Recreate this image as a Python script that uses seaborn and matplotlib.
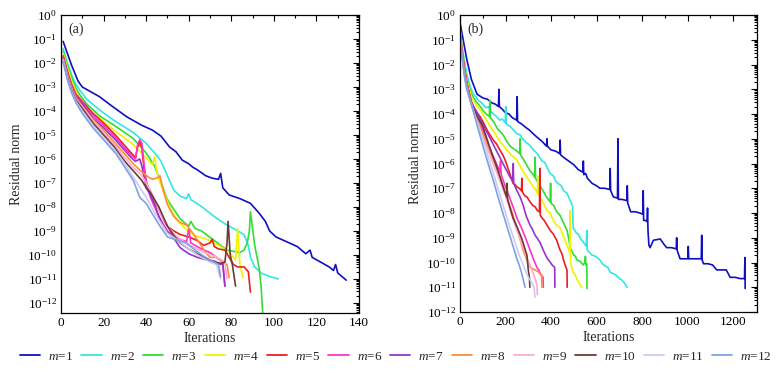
import numpy as np
import pandas as pd
import matplotlib
matplotlib.use("Agg")
import matplotlib.pyplot as plt
import seaborn as sns
from matplotlib.lines import Line2D
from matplotlib.ticker import LogLocator, LogFormatterMathtext, MultipleLocator, NullFormatter

# ---------------- data (iteration, log10 residual) ----------------
M_LABELS = ["$m$=%d" % i for i in range(1, 13)]
COLORS = ["#1010C0", "#33E6E6", "#33DD33", "#F2F200", "#E82020", "#FF33CC",
          "#9933CC", "#FF8C3A", "#FFAACC", "#6B3A3A", "#CCCCEE", "#7FA0E8"]

A1 = [(1,-1.1),(3,-1.6),(5,-2.1),(8,-2.75),(10,-3.0),(14,-3.2),(18,-3.4),(24,-3.8),(31,-4.25),(38,-4.6),
      (43,-4.8),(47,-5.05),(51,-5.5),(54,-5.7),(57,-6.05),(60,-6.2),(62,-6.35),(64,-6.45),(68,-6.7),(71,-6.8),
      (74,-6.85),(75,-6.6),(76,-7.2),(79,-7.5),(84,-7.65),(89,-7.85),(93,-8.25),(96,-8.6),(98,-9.0),(101,-9.25),
      (106,-9.45),(111,-9.65),(115,-9.95),(117,-9.8),(118,-10.1),(122,-10.3),(126,-10.5),(128,-10.65),(129,-10.4),
      (130,-10.75),(132,-10.9),(134,-11.05)]
A2 = [(1,-1.4),(3,-2.0),(5,-2.5),(7,-2.9),(9,-3.15),(12,-3.5),(18,-3.95),(25,-4.4),(34,-4.9),(40,-5.35),
      (45,-5.85),(47,-6.1),(50,-6.7),(53,-7.3),(56,-7.55),(59,-7.65),(60,-7.45),(61,-7.7),(63,-7.8),(67,-8.05),
      (72,-8.4),(77,-8.7),(82,-8.95),(86,-9.15),(88,-9.6),(89,-10.1),(91,-10.5),(94,-10.75),(98,-10.9),(102,-11.0)]
A3 = [(1,-1.5),(3,-2.1),(5,-2.6),(7,-3.05),(9,-3.35),(12,-3.7),(18,-4.2),(25,-4.6),(34,-5.15),(40,-5.75),
      (44,-6.3),(47,-7.0),(50,-7.7),(53,-8.1),(56,-8.5),(60,-8.8),(61,-8.6),(63,-8.9),(66,-9.0),(69,-9.2),
      (72,-9.4),(75,-9.6),(78,-9.8),(81,-9.85),(84,-9.9),(86,-9.8),(87.5,-9.5),(88.5,-9.0),(89,-8.2),(90,-8.9),
      (91,-9.6),(93,-10.5),(94,-11.3),(95.5,-13.5)]
A4 = [(1,-1.6),(3,-2.2),(5,-2.75),(7,-3.2),(9,-3.5),(12,-3.85),(18,-4.3),(25,-4.8),(34,-5.4),(40,-5.95),
      (43,-6.25),(44,-5.9),(45,-6.5),(46.5,-7.0),(48,-7.3),(51,-8.0),(55,-8.6),(59,-8.95),(63,-9.2),(67,-9.3),
      (71,-9.45),(75,-9.65),(79,-9.9),(82,-10.2),(83,-8.9),(84,-10.35),(85.5,-10.95)]
A5 = [(1,-1.7),(3,-2.35),(5,-2.9),(7,-3.3),(10,-3.6),(15,-4.1),(20,-4.5),(25,-4.95),(30,-5.45),(33,-5.75),
      (35,-5.95),(36,-5.5),(37,-5.25),(38,-5.55),(39,-6.4),(40,-6.9),(42,-7.5),(44,-7.8),(46,-8.1),(48,-8.5),
      (50,-8.8),(53,-9.0),(56,-9.15),(60,-9.25),(64,-9.4),(67,-9.6),(70,-9.5),(71,-9.35),(72,-9.65),(74,-9.75),
      (77,-9.8),(79,-10.1),(81,-10.4),(83,-10.5),(86,-10.5),(88,-10.7),(89,-11.55)]
A6 = [(1,-1.75),(3,-2.4),(5,-2.95),(7,-3.35),(10,-3.65),(15,-4.2),(20,-4.6),(25,-5.05),(30,-5.55),(33,-5.85),
      (35,-6.0),(36,-5.4),(37,-5.2),(38,-5.35),(39,-6.2),(40,-7.0),(42,-7.6),(44,-8.0),(46,-8.4),(48,-8.7),
      (50,-9.0),(53,-9.2),(56,-9.35),(59,-9.45),(60,-8.9),(61,-9.5),(63,-9.6),(66,-9.75),(70,-9.9),(73,-10.1),
      (76,-10.3),(77,-11.3)]
A7 = [(1,-1.8),(3,-2.45),(5,-3.0),(7,-3.4),(10,-3.7),(15,-4.3),(20,-4.7),(25,-5.15),(30,-5.65),(33,-5.95),
      (35,-6.1),(37,-6.0),(38,-6.3),(40,-7.2),(42,-7.5),(44,-7.9),(46,-8.4),(48,-8.8),(50,-9.05),(53,-9.3),
      (56,-9.7),(60,-9.95),(64,-10.1),(68,-10.2),(72,-10.25),(75,-10.4),(76,-10.35),(77,-11.3)]
A8 = [(1,-1.85),(3,-2.5),(5,-3.05),(7,-3.45),(10,-3.8),(15,-4.35),(20,-4.8),(25,-5.3),(30,-5.8),(34,-6.2),
      (38,-6.55),(41,-6.75),(43,-6.85),(45,-6.8),(46.5,-6.7),(48,-7.3),(50,-7.9),(53,-8.4),(56,-8.65),(59,-8.75),
      (62,-9.1),(65,-9.5),(68,-9.9),(70,-10.1),(73,-10.1),(75,-10.2),(78,-10.4),(79,-10.95)]
A9 = [(1,-1.85),(3,-2.55),(5,-3.1),(7,-3.5),(10,-3.85),(15,-4.4),(20,-4.9),(25,-5.4),(30,-5.95),(34,-6.35),
      (38,-6.7),(42,-7.3),(45,-7.9),(48,-8.5),(51,-8.9),(54,-9.2),(57,-9.4),(60,-9.6),(63,-9.7),(66,-9.85),
      (69,-9.95),(72,-10.05),(75,-10.2),(77,-10.3),(78,-11.0)]
A10 = [(1,-1.9),(3,-2.6),(5,-3.15),(7,-3.55),(10,-3.9),(15,-4.5),(20,-5.0),(25,-5.5),(30,-6.1),(34,-6.5),
       (38,-6.9),(40,-7.2),(42,-7.4),(44,-7.7),(46,-8.0),(48,-8.4),(50,-8.8),(53,-9.2),(56,-9.5),(60,-9.75),
       (64,-9.95),(68,-10.15),(72,-10.3),(75,-10.35),(77,-10.3),(78,-9.5),(78.5,-8.6),(79.5,-10.0),(80.5,-10.4),(82,-11.3)]
A11 = [(1,-1.9),(3,-2.65),(5,-3.2),(7,-3.6),(10,-4.0),(15,-4.6),(20,-5.1),(25,-5.6),(30,-6.2),(35,-6.9),
       (40,-7.6),(45,-8.4),(50,-9.1),(55,-9.4),(60,-9.75),(65,-10.05),(70,-10.3),(73,-10.4),(75,-11.0)]
A12 = [(1,-1.95),(3,-2.7),(5,-3.25),(7,-3.65),(10,-4.1),(15,-4.7),(20,-5.2),(26,-5.8),(30,-6.35),(34,-6.9),
       (37,-7.6),(40,-7.85),(43,-8.3),(46.5,-8.8),(50,-9.25),(55,-9.4),(59,-9.5),(63,-9.8),(67,-10.05),(71,-10.25),
       (74,-10.4),(75,-10.9)]

B1 = [(0,-0.3),(8,-0.7),(20,-1.3),(30,-1.8),(50,-2.6),(75,-3.2),(100,-3.35),(120,-3.4),(140,-3.55),(155,-3.6),
      (169,-3.7),(171,-3.0),(173,-3.7),(185,-3.8),(200,-3.95),(215,-4.0),(230,-4.15),(249,-4.25),(251,-3.3),(253,-4.3),
      (270,-4.4),(290,-4.55),(305,-4.65),(322,-4.8),(340,-4.95),(360,-5.1),(380,-5.3),(382,-5.0),(384,-5.3),(400,-5.45),
      (420,-5.5),(438,-5.6),(440,-5.05),(442,-5.65),(455,-5.75),(470,-5.85),(485,-5.95),(500,-6.05),(520,-6.25),(540,-6.35),
      (542,-5.9),(544,-6.45),(552,-6.4),(560,-6.6),(580,-6.8),(600,-6.9),(615,-7.0),(635,-7.0),(658,-7.05),(660,-6.2),
      (662,-7.1),(674,-7.35),(692,-7.4),(694,-5.0),(696,-7.45),(712,-7.45),(733,-7.5),(735,-6.9),(737,-7.6),(750,-7.95),
      (770,-7.95),(790,-8.0),(803,-8.05),(805,-7.1),(807,-8.3),(815,-8.3),(822,-8.35),(824,-7.8),(826,-8.7),(830,-9.3),
      (835,-9.4),(850,-9.1),(880,-9.05),(895,-9.25),(908,-9.4),(930,-9.4),(950,-9.45),(952,-9.0),(954,-9.5),(967,-9.85),
      (1001,-9.85),(1003,-9.35),(1005,-9.85),(1060,-9.85),(1062,-8.9),(1064,-9.9),(1070,-10.05),(1090,-10.05),(1110,-10.1),
      (1128,-10.3),(1170,-10.3),(1187,-10.6),(1210,-10.6),(1230,-10.65),(1250,-10.65),(1252,-9.8),(1253,-11.05)]
B2 = [(0,-0.5),(8,-1.2),(20,-1.9),(30,-2.4),(45,-2.9),(58,-3.2),(70,-3.3),(80,-3.45),(90,-3.5),(100,-3.6),
      (115,-3.75),(125,-3.7),(140,-3.95),(160,-4.1),(175,-4.25),(185,-4.2),(199,-4.35),(201,-3.7),(203,-4.4),(220,-4.5),
      (235,-4.65),(250,-4.8),(265,-4.85),(275,-5.0),(290,-5.15),(305,-5.25),(322,-5.45),(340,-5.6),(350,-5.75),(360,-5.9),
      (372,-5.95),(385,-6.2),(396,-6.4),(410,-6.5),(420,-6.7),(430,-6.8),(445,-6.9),(455,-7.1),(470,-7.2),(484,-7.5),
      (490,-7.6),(495,-7.75),(497,-8.6),(505,-8.7),(510,-8.8),(520,-8.85),(530,-9.05),(540,-9.15),(555,-9.35),(557,-8.7),
      (559,-9.5),(570,-9.6),(580,-9.7),(595,-9.75),(615,-9.9),(625,-10.05),(640,-10.15),(650,-10.2),(660,-10.4),(673,-10.45),
      (685,-10.5),(700,-10.65),(710,-10.7),(720,-10.8),(735,-11.0)]
B3 = [(0,-0.6),(8,-1.25),(20,-2.0),(30,-2.6),(50,-3.2),(60,-3.35),(70,-3.5),(85,-3.65),(100,-3.85),(115,-4.0),
      (129,-4.1),(131,-3.45),(133,-4.15),(150,-4.35),(165,-4.6),(175,-4.7),(190,-4.85),(205,-5.1),(220,-5.3),(235,-5.4),
      (250,-5.5),(262,-5.6),(264,-5.0),(266,-5.65),(280,-5.85),(295,-6.1),(308,-6.3),(318,-6.4),(328,-6.55),(330,-5.75),
      (332,-6.6),(345,-6.8),(355,-6.95),(365,-7.1),(380,-7.35),(396,-7.55),(398,-6.8),(400,-7.6),(412,-7.7),(425,-7.95),
      (440,-8.1),(450,-8.3),(460,-8.5),(470,-8.7),(477,-9.0),(484,-9.4),(492,-9.55),(500,-9.7),(507,-9.75),(514,-9.9),
      (528,-9.95),(541,-10.1),(549,-10.0),(551,-9.75),(553,-10.1),(557,-10.05),(558,-11.05)]
B4 = [(0,-0.6),(8,-1.3),(20,-2.1),(30,-2.65),(50,-3.3),(62,-3.5),(75,-3.7),(88,-3.8),(100,-4.0),(120,-4.3),
      (140,-4.6),(158,-4.85),(175,-5.1),(192,-5.3),(210,-5.5),(230,-5.7),(250,-5.85),(270,-6.2),(290,-6.5),(305,-6.7),
      (322,-6.95),(332,-7.05),(340,-7.2),(342,-6.5),(344,-7.25),(360,-7.5),(372,-7.7),(381,-7.9),(396,-8.0),(410,-8.3),
      (425,-8.5),(440,-8.6),(452,-8.9),(460,-9.05),(470,-9.3),(482,-9.6),(484,-7.9),(486,-10.0),(497,-10.4),(506,-10.5),
      (515,-10.7),(525,-10.85),(535,-11.0)]
B5 = [(0,-0.7),(8,-1.4),(20,-2.2),(30,-2.75),(50,-3.5),(62,-3.75),(75,-3.95),(88,-4.1),(100,-4.3),(122,-4.7),
      (146,-5.05),(160,-5.2),(175,-5.45),(188,-5.65),(200,-5.9),(215,-6.3),(233,-6.8),(242,-6.85),(250,-6.95),(260,-7.0),
      (270,-7.1),(272,-6.6),(274,-7.15),(284,-7.3),(294,-7.35),(308,-7.55),(320,-7.7),(330,-7.75),(340,-7.9),(349,-7.95),
      (351,-6.2),(353,-8.1),(360,-8.2),(370,-8.3),(383,-8.5),(396,-8.7),(410,-8.85),(425,-9.1),(432,-9.3),(440,-9.5),
      (448,-9.65),(455,-9.9),(462,-10.1),(470,-10.3),(471,-11.0)]
B6 = [(0,-0.7),(8,-1.45),(20,-2.25),(30,-2.8),(50,-3.6),(62,-3.85),(75,-4.1),(88,-4.4),(100,-4.65),(125,-5.25),
      (150,-5.8),(165,-6.1),(175,-6.35),(178,-5.9),(181,-6.45),(200,-6.95),(215,-7.3),(233,-7.75),(250,-8.2),(260,-8.4),
      (270,-8.6),(290,-9.05),(308,-9.5),(322,-9.85),(338,-10.2),(346,-10.3),(355,-10.5),(365,-10.6),(366,-11.0)]
B7 = [(0,-0.7),(8,-1.4),(20,-2.2),(30,-2.8),(50,-3.55),(62,-3.75),(75,-3.95),(88,-4.2),(100,-4.4),(125,-4.85),
      (150,-5.3),(175,-5.75),(200,-6.2),(220,-6.55),(232,-6.7),(234,-6.0),(236,-6.8),(250,-7.1),(264,-7.35),(278,-7.7),
      (290,-8.1),(308,-8.5),(318,-8.65),(330,-8.9),(342,-9.05),(352,-9.2),(366,-9.5),(381,-9.8),(393,-9.95),(405,-10.1),
      (416,-10.2),(417,-11.0)]
B8 = [(0,-0.75),(8,-1.5),(20,-2.3),(30,-2.85),(50,-3.6),(62,-3.9),(75,-4.2),(88,-4.5),(100,-4.8),(125,-5.4),
      (150,-5.95),(178,-6.6),(206,-7.35),(228,-7.95),(250,-8.6),(264,-9.05),(277,-9.5),(292,-9.85),(308,-10.2),(318,-10.25),
      (330,-10.3),(340,-10.35),(352,-10.45),(359,-10.5),(360,-11.0)]
B9 = [(0,-0.8),(8,-1.5),(20,-2.35),(30,-2.9),(50,-3.65),(75,-4.3),(100,-4.95),(125,-5.5),(150,-6.1),(175,-6.7),
      (200,-7.3),(225,-8.0),(250,-8.7),(270,-9.2),(290,-9.7),(305,-10.05),(320,-10.4),(330,-10.65),(338,-10.9),(340,-11.3)]
B10 = [(0,-0.8),(8,-1.55),(20,-2.4),(30,-2.95),(50,-3.6),(62,-3.85),(75,-4.1),(88,-4.3),(100,-4.5),(120,-5.05),
       (140,-5.6),(158,-6.05),(176,-6.55),(195,-7.1),(205,-7.35),(207,-6.8),(209,-7.45),(220,-7.8),(233,-8.2),(250,-8.55),
       (270,-9.0),(282,-9.35),(294,-9.7),(300,-10.3),(305,-10.6),(307,-11.0)]
B11 = [(0,-0.8),(8,-1.6),(20,-2.45),(30,-3.0),(50,-3.6),(80,-4.45),(110,-5.3),(135,-6.05),(160,-6.8),(185,-7.55),
       (210,-8.3),(235,-9.0),(260,-9.7),(280,-10.15),(300,-10.6),(315,-10.8),(325,-11.0),(330,-11.4)]
B12 = [(0,-0.85),(8,-1.65),(20,-2.5),(30,-3.0),(50,-3.6),(75,-4.45),(101,-5.3),(125,-6.05),(150,-6.8),(175,-7.6),
       (200,-8.35),(225,-9.1),(250,-9.85),(260,-10.1),(270,-10.4),(278,-10.7),(286,-11.0)]

PANEL_A = [A1, A2, A3, A4, A5, A6, A7, A8, A9, A10, A11, A12]
PANEL_B = [B1, B2, B3, B4, B5, B6, B7, B8, B9, B10, B11, B12]


def to_frame(series_list):
    rows = []
    for lab, pts in zip(M_LABELS, series_list):
        for it, e in pts:
            rows.append({"Iterations": it, "Residual": 10.0 ** e, "m": lab})
    return pd.DataFrame(rows)


sns.set_theme(style="white")
plt.rcParams["font.family"] = ["Liberation Serif", "DejaVu Serif"]
plt.rcParams["mathtext.fontset"] = "custom"
plt.rcParams["mathtext.rm"] = "Liberation Serif"
plt.rcParams["mathtext.it"] = "Liberation Serif:italic"
plt.rcParams["axes.unicode_minus"] = True

fig = plt.figure(figsize=(7.79, 3.73), dpi=100)
axa = fig.add_axes([61 / 779, 1 - 313 / 373, 298 / 779, 298 / 373])
axb = fig.add_axes([460 / 779, 1 - 312 / 373, 297 / 779, 297 / 373])

palette = dict(zip(M_LABELS, COLORS))

for ax, series, xlim, ylo, xmaj, xmin, tag in [
    (axa, PANEL_A, (0, 140), 10 ** -12.42, 20, 10, "(a)"),
    (axb, PANEL_B, (0, 1305), 1e-12, 200, 100, "(b)"),
]:
    df = to_frame(series)
    sns.lineplot(data=df, x="Iterations", y="Residual", hue="m", palette=palette,
                 estimator=None, sort=False, legend=False, linewidth=1.2, ax=ax)
    ax.set_yscale("log")
    ax.set_xlim(*xlim)
    ax.set_ylim(ylo, 1)
    ax.xaxis.set_major_locator(MultipleLocator(xmaj))
    ax.xaxis.set_minor_locator(MultipleLocator(xmin))
    ax.yaxis.set_major_locator(LogLocator(base=10, numticks=30))
    ax.yaxis.set_minor_locator(LogLocator(base=10, subs=np.arange(2, 10), numticks=30))
    ax.yaxis.set_major_formatter(LogFormatterMathtext())
    ax.yaxis.set_minor_formatter(NullFormatter())
    ax.tick_params(which="both", direction="in", top=True, right=True, colors="black",
                   labelsize=9.5, width=0.8)
    ax.tick_params(which="major", length=4.5, pad=3)
    ax.tick_params(which="minor", length=2.2)
    for s in ax.spines.values():
        s.set_color("black")
        s.set_linewidth(0.9)
    ax.set_xlabel("Iterations", fontsize=10, labelpad=2)
    ax.set_ylabel("Residual norm", fontsize=10, labelpad=3)
    ax.text(0.025, 0.975, tag, transform=ax.transAxes, fontsize=10, va="top", ha="left")

handles = [Line2D([0], [0], color=c, lw=1.3) for c in COLORS]
fig.legend(handles, M_LABELS, loc="center", bbox_to_anchor=(0.508, 0.043), ncol=12,
           frameon=False, fontsize=9.5, handlelength=1.55, handletextpad=0.6, columnspacing=0.62,
           borderaxespad=0, borderpad=0.2)

fig.savefig("out.png", dpi=100)
